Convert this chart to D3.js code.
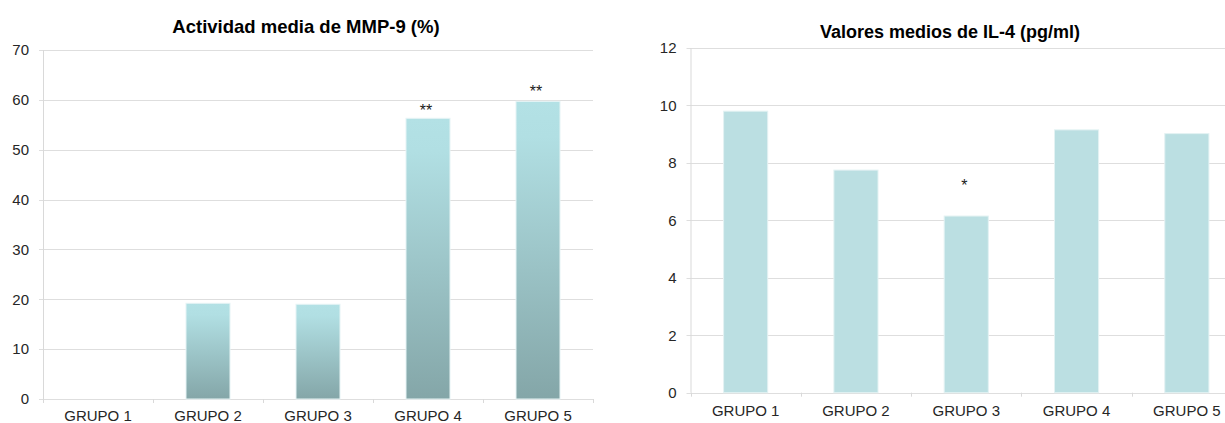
<!DOCTYPE html>
<html>
<head>
<meta charset="utf-8">
<script src="https://cdn.jsdelivr.net/npm/d3@7"></script>
<style>
  html, body { margin: 0; padding: 0; background: #fff; }
  svg { display: block; font-family: "Liberation Sans", Arial, sans-serif; }
</style>
</head>
<body>
<svg id="chart" width="1225" height="423"></svg>
<script>
// Groups shared by both panels
const groups = ["GRUPO 1", "GRUPO 2", "GRUPO 3", "GRUPO 4", "GRUPO 5"];

// Panel A: mean MMP-9 activity (%)
const mmpTitle = "Actividad media de MMP-9 (%)";
const mmpValues = [0, 19.2, 19.0, 56.3, 59.7];
const mmpTicks = [0, 10, 20, 30, 40, 50, 60, 70];
const mmpMarks = ["", "", "", "**", "**"];

// Panel B: mean IL-4 values (pg/ml)
const il4Title = "Valores medios de IL-4 (pg/ml)";
const il4Values = [9.8, 7.75, 6.15, 9.15, 9.02];
const il4Ticks = [0, 2, 4, 6, 8, 10, 12];
const il4Marks = ["", "", "*", "", ""];

const svg = d3.select("#chart");
const defs = svg.append("defs");

// Vertical gradient used by the MMP-9 bars (per bar)
const grad = defs.append("linearGradient")
  .attr("id", "tealGrad")
  .attr("x1", 0).attr("y1", 0).attr("x2", 0).attr("y2", 1);
grad.append("stop").attr("offset", 0).attr("stop-color", "#b3e1e5");
grad.append("stop").attr("offset", 0.12).attr("stop-color", "#b1dfe3");
grad.append("stop").attr("offset", 1).attr("stop-color", "#84a6a8");

function drawPanel(cfg) {
  const g = svg.append("g");
  const x = d3.scaleBand()
    .domain(groups)
    .range([cfg.left, cfg.right])
    .paddingInner(0.6)
    .paddingOuter(0.3);
  const y = d3.scaleLinear()
    .domain([0, cfg.ticks[cfg.ticks.length - 1]])
    .range([cfg.bottom, cfg.top]);

  // Horizontal gridlines with short outward ticks
  g.selectAll("line.grid")
    .data(cfg.ticks)
    .join("line")
    .attr("class", "grid")
    .attr("x1", cfg.left - 4)
    .attr("x2", cfg.right)
    .attr("y1", d => Math.round(y(d)) + 0.5)
    .attr("y2", d => Math.round(y(d)) + 0.5)
    .attr("stroke", "#dedede")
    .attr("stroke-width", 1);

  // Vertical axis line
  g.append("line")
    .attr("x1", cfg.left + 0.5).attr("x2", cfg.left + 0.5)
    .attr("y1", y(cfg.ticks[cfg.ticks.length - 1]))
    .attr("y2", y(0))
    .attr("stroke", "#d9d9d9");

  // Category boundary ticks under the baseline
  const bounds = d3.range(groups.length + 1).map(i => cfg.left + i * x.step());
  g.selectAll("line.cat")
    .data(bounds)
    .join("line")
    .attr("class", "cat")
    .attr("x1", d => Math.round(d) + 0.5)
    .attr("x2", d => Math.round(d) + 0.5)
    .attr("y1", y(0))
    .attr("y2", y(0) + 4)
    .attr("stroke", "#d9d9d9");

  // Y tick labels
  g.selectAll("text.ytick")
    .data(cfg.ticks)
    .join("text")
    .attr("class", "ytick")
    .attr("x", cfg.left - 14)
    .attr("y", d => y(d))
    .attr("dy", "0.35em")
    .attr("text-anchor", "end")
    .attr("font-size", 15)
    .attr("fill", "#262626")
    .text(d => d);

  // Bars
  g.selectAll("rect.bar")
    .data(cfg.values)
    .join("rect")
    .attr("class", "bar")
    .attr("x", (d, i) => x(groups[i]))
    .attr("width", x.bandwidth())
    .attr("y", d => y(d))
    .attr("height", d => y(0) - y(d))
    .attr("fill", cfg.fill)
    .attr("stroke", cfg.edge)
    .attr("stroke-width", 1)
    .attr("display", d => d > 0 ? null : "none");

  // Significance marks
  g.selectAll("text.mark")
    .data(cfg.values.map((v, i) => ({ v, i, m: cfg.marks[i] })).filter(d => d.m))
    .join("text")
    .attr("class", "mark")
    .attr("x", d => x(groups[d.i]) + x.bandwidth() / 2 - 2)
    .attr("y", d => y(d.v) - cfg.markGap[d.i])
    .attr("text-anchor", "middle")
    .attr("font-size", 16)
    .attr("fill", "#1a1a1a")
    .text(d => d.m);

  // Category labels
  g.selectAll("text.xtick")
    .data(groups)
    .join("text")
    .attr("class", "xtick")
    .attr("x", d => x(d) + x.bandwidth() / 2)
    .attr("y", y(0) + cfg.labelGap)
    .attr("text-anchor", "middle")
    .attr("font-size", 15)
    .attr("fill", "#262626")
    .text(d => d);

  // Title
  g.append("text")
    .attr("x", cfg.titleX)
    .attr("y", cfg.titleY)
    .attr("text-anchor", "middle")
    .attr("font-size", cfg.titleSize)
    .attr("font-weight", "bold")
    .attr("fill", "#000")
    .text(cfg.title);
}

drawPanel({
  title: mmpTitle, values: mmpValues, ticks: mmpTicks, marks: mmpMarks,
  left: 43, right: 593, top: 50, bottom: 399,
  fill: "url(#tealGrad)", edge: "#e6f4f5",
  markGap: [0, 0, 0, 2, 4], labelGap: 22,
  titleX: 306, titleY: 33, titleSize: 18.5
});

drawPanel({
  title: il4Title, values: il4Values, ticks: il4Ticks, marks: il4Marks,
  left: 690.5, right: 1242, top: 48, bottom: 392.7,
  fill: "#bbdfe2", edge: "#e3f2f3",
  markGap: [0, 0, 25, 0, 0], labelGap: 23,
  titleX: 950, titleY: 38, titleSize: 18
});
</script>
</body>
</html>
